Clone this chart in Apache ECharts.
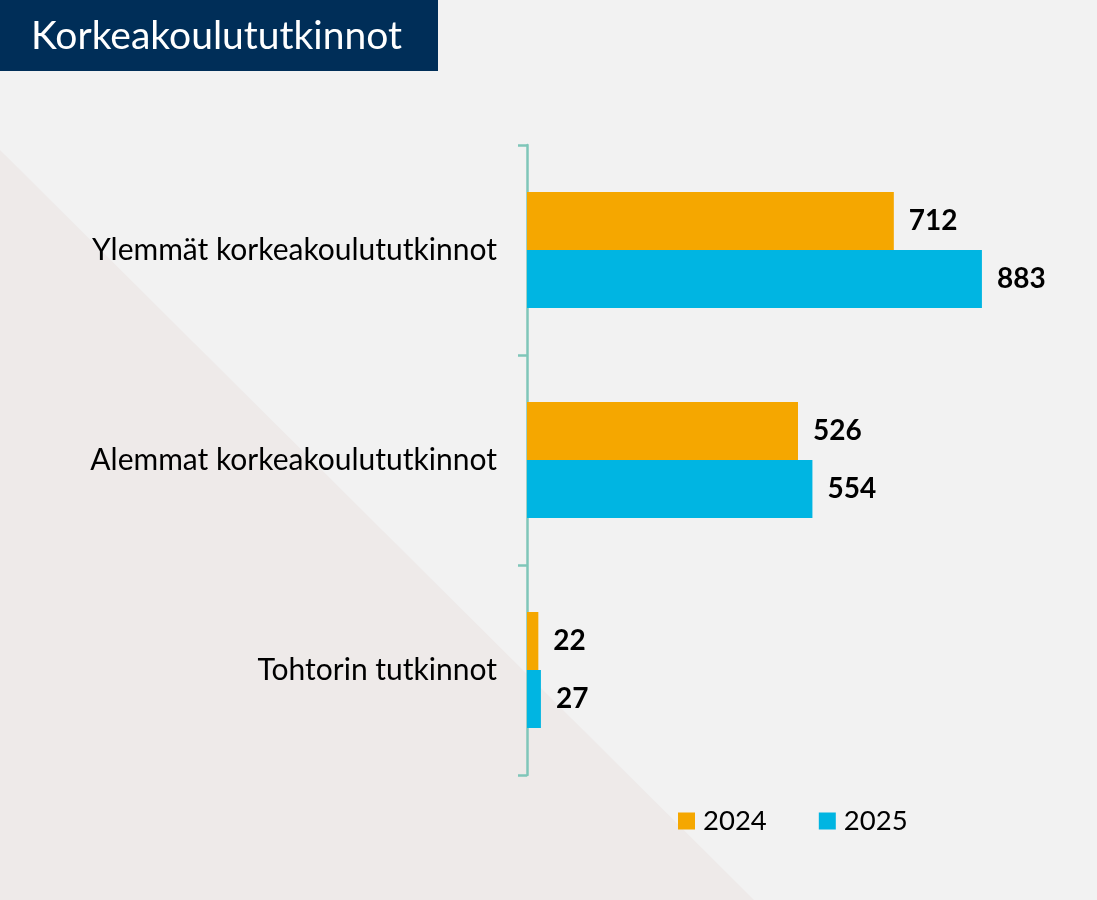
<!DOCTYPE html>
<html>
<head>
<meta charset="utf-8">
<script src="https://cdn.jsdelivr.net/npm/echarts@6/dist/echarts.min.js"></script>
<style>
html,body{margin:0;padding:0;background:#f2f2f2;}
#chart{width:1097px;height:900px;}
</style>
</head>
<body>
<div id="chart"></div>
<script>
const title = 'Korkeakoulututkinnot';
const categories = ['Ylemmät korkeakoulututkinnot', 'Alemmat korkeakoulututkinnot', 'Tohtorin tutkinnot'];
const seriesNames = ['2024', '2025'];
const values2024 = [712, 526, 22];
const values2025 = [883, 554, 27];
const colors = ['#f5a700', '#00b5e2'];

const chart = echarts.init(document.getElementById('chart'));
const labelStyle = {
  show: true,
  position: 'right',
  distance: 15,
  fontFamily: 'Lato',
  fontWeight: 'bold',
  fontSize: 28,
  color: '#000'
};
chart.setOption({
  backgroundColor: '#f2f2f2',
  animation: false,
  graphic: [
    {
      type: 'polygon', z: -10, silent: true,
      shape: { points: [[0, 150], [0, 900], [754, 900]] },
      style: { fill: '#eeeae9' }
    },
    {
      type: 'rect', z: 10, silent: true,
      shape: { x: 0, y: 0, width: 438, height: 71 },
      style: { fill: '#002e58' }
    },
    {
      type: 'text', z: 11, silent: true,
      x: 31, y: 36,
      style: { text: title, fill: '#ffffff', font: '39px Lato', verticalAlign: 'middle' }
    }
  ],
  grid: { left: 527, top: 145, width: 515.2, height: 630, containLabel: false },
  legend: {
    data: seriesNames,
    left: 673, top: 802,
    itemWidth: 17, itemHeight: 17, itemGap: 52,
    icon: 'rect',
    textStyle: { fontFamily: 'Lato', fontSize: 27.5, color: '#000', padding: [0, 0, 0, 3] }
  },
  xAxis: {
    type: 'value', min: 0, max: 1000,
    show: false
  },
  yAxis: {
    type: 'category', data: categories, inverse: true,
    axisLine: { show: true, onZero: false, lineStyle: { color: '#7fc6b9', width: 2.5 } },
    axisTick: { show: true, length: 9, lineStyle: { color: '#7fc6b9', width: 2.5 } },
    axisLabel: { margin: 30, fontFamily: 'Lato', fontSize: 30, color: '#000' }
  },
  series: [
    {
      name: seriesNames[0], type: 'bar', data: values2024,
      barWidth: 58, barGap: '0%',
      itemStyle: { color: colors[0] },
      label: labelStyle
    },
    {
      name: seriesNames[1], type: 'bar', data: values2025,
      barWidth: 58, barGap: '0%',
      itemStyle: { color: colors[1] },
      label: labelStyle
    }
  ]
});
</script>
</body>
</html>
